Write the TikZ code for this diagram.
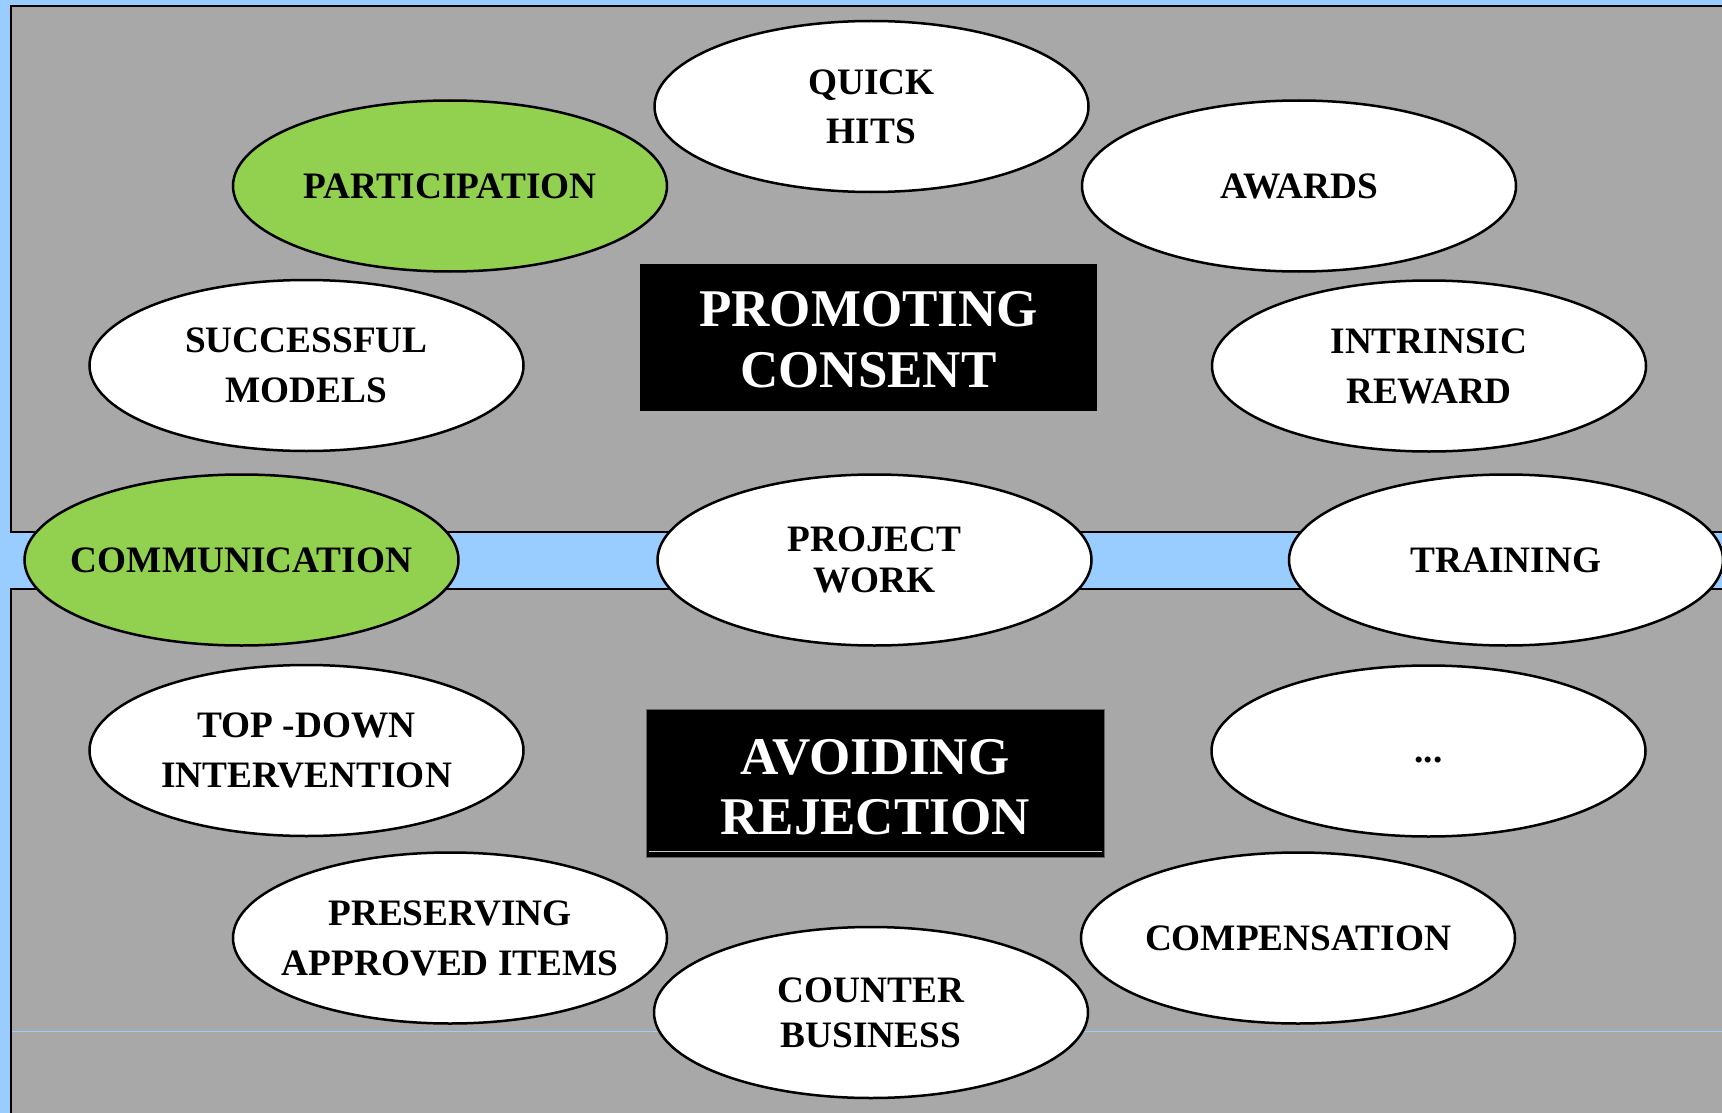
\documentclass[tikz,border=0pt]{standalone}
\usepackage{fontspec}
\setmainfont{Liberation Serif}
\usetikzlibrary{shapes.geometric,calc}
\definecolor{bgblue}{RGB}{153,204,255}
\definecolor{panelgray}{RGB}{168,168,168}
\definecolor{leafgreen}{RGB}{146,208,80}
\definecolor{boxedge}{RGB}{100,100,100}
\definecolor{boxline}{RGB}{200,200,200}
\begin{document}
\begin{tikzpicture}[x=1pt,y=-1pt,
  oval/.style={ellipse, draw=black, line width=2.5pt, fill=white,
    minimum width=434pt, minimum height=171pt, inner ysep=0pt, inner xsep=-200pt,
    align=center, font=\bfseries\fontsize{37.3}{50}\selectfont},
  greenoval/.style={oval, fill=leafgreen},
  titlebox/.style={rectangle, fill=black, text=white, inner sep=0pt,
    minimum width=457pt, minimum height=147pt, align=center,
    font=\bfseries\fontsize{53}{61}\selectfont},
  panel/.style={fill=panelgray, draw=black, line width=2pt}]
\clip (0,0) rectangle (1722,1113);
\fill[bgblue] (0,0) rectangle (1722,1113);
% panels
\path[panel] (11,6) rectangle (1745,532);
\path[panel] (11,589) rectangle (1745,1140);
\coordinate (lineL) at (12,1031);
\coordinate (lineR) at (1722,1031);
\draw[bgblue, line width=1pt] (lineL) -- (lineR);
% title boxes
\node[titlebox] (promo) at (868.5,337.5) {\rule{0pt}{40pt}PROMOTING\\CONSENT};
\node[titlebox, draw=boxedge, line width=1pt, minimum width=458pt, minimum height=148pt,
  font=\bfseries\fontsize{53}{60}\selectfont] (avoid) at (875,783)
  {\rule{0pt}{44pt}AVOIDING\\REJECTION};
\draw[boxline, line width=1pt] ($(avoid.south west)+(3,-6)$) -- ($(avoid.south east)+(-3,-6)$);
% upper ellipses
\node[greenoval] (part) at (450,186) {PARTICIPATION};
\node[oval, font=\bfseries\fontsize{37.3}{49}\selectfont] (quick) at (871.5,106.5) {QUICK\\HITS};
\node[oval] (awards) at (1299,186) {AWARDS};
\node[oval] (models) at (306.5,365.5) {SUCCESSFUL\\MODELS};
\node[oval] (intrinsic) at (1429,366) {INTRINSIC\\REWARD};
% band ellipses
\node[greenoval] (comm) at (241.5,560) {COMMUNICATION};
\node[oval, font=\bfseries\fontsize{37.3}{41}\selectfont] (project) at (874.5,560) {PROJECT\\WORK};
\node[oval] (training) at (1506,560) {TRAINING};
% lower ellipses
\node[oval] (topdown) at (306.5,750.5) {TOP -DOWN\\INTERVENTION};
\node[oval] (dots) at (1428.5,751) {\vphantom{X}...};
\node[oval] (preserve) at (450,938) {PRESERVING\\APPROVED ITEMS};
\node[oval] (comp) at (1298,938) {COMPENSATION};
\node[oval, font=\bfseries\fontsize{37.3}{45}\selectfont] (counter) at (871,1012.5) {COUNTER\\BUSINESS};
\end{tikzpicture}
\end{document}
